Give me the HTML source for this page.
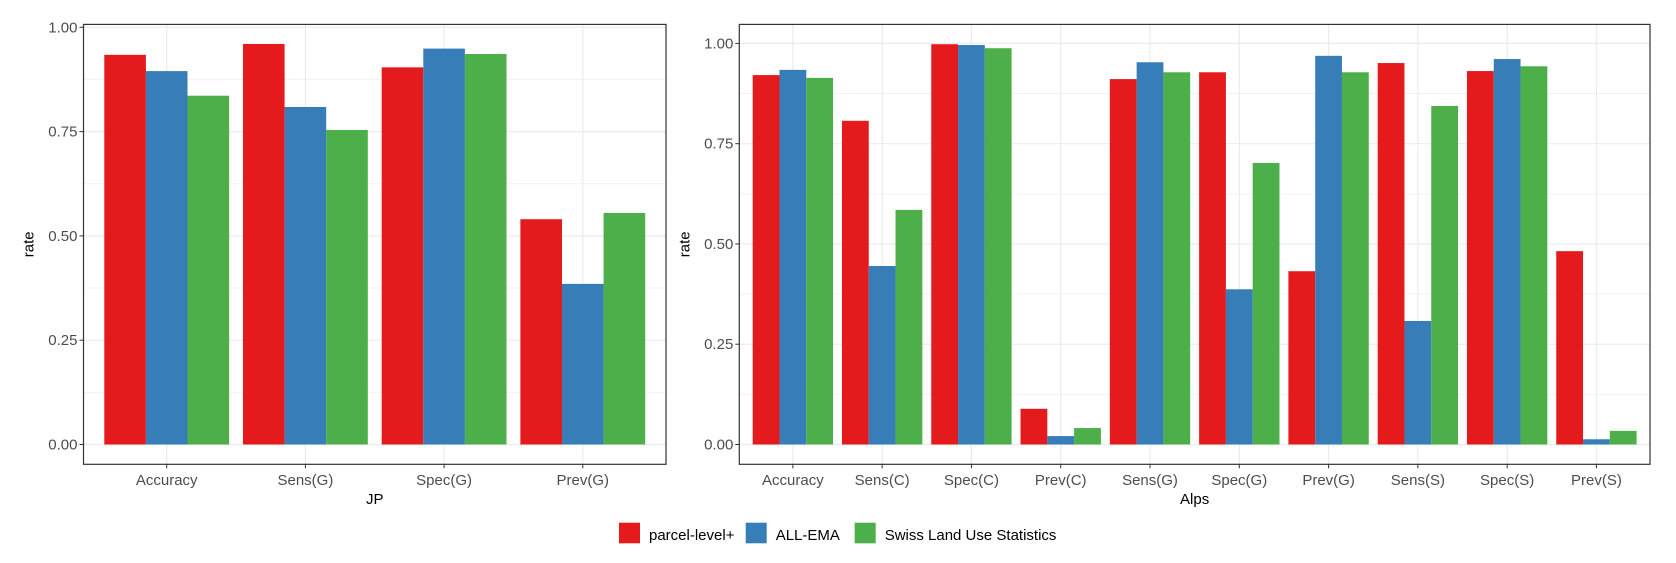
<!DOCTYPE html>
<html><head><meta charset="utf-8"><style>
body{margin:0;background:#fff}
svg{display:block;font-family:"Liberation Sans",Arial,sans-serif}
</style></head><body>
<svg id="c" width="1676" height="563" viewBox="0 0 1676 563"></svg>
<script>
const seriesNames=["parcel-level+","ALL-EMA","Swiss Land Use Statistics"];
const colors=["#E41A1C","#377EB8","#4DAF4A"];
const jpCats=["Accuracy","Sens(G)","Spec(G)","Prev(G)"];
const jpRed=[0.934,0.960,0.904,0.540];
const jpBlue=[0.895,0.809,0.949,0.385];
const jpGreen=[0.836,0.754,0.936,0.555];
const alpsCats=["Accuracy","Sens(C)","Spec(C)","Prev(C)","Sens(G)","Spec(G)","Prev(G)","Sens(S)","Spec(S)","Prev(S)"];
const alpsRed=[0.921,0.807,0.998,0.089,0.911,0.928,0.432,0.951,0.931,0.482];
const alpsBlue=[0.934,0.445,0.996,0.021,0.953,0.387,0.969,0.308,0.961,0.013];
const alpsGreen=[0.914,0.585,0.988,0.041,0.928,0.702,0.928,0.844,0.943,0.034];
const yTicks=[0,0.25,0.5,0.75,1];
const yTickLabels=["0.00","0.25","0.50","0.75","1.00"];
const NS="http://www.w3.org/2000/svg";
const svg=document.getElementById('c');
function mk(t,a,p){const e=document.createElementNS(NS,t);for(const k in a)e.setAttribute(k,a[k]);(p||svg).appendChild(e);return e;}
function panel(name,L,R,T,B,y0px,y1px,cats,vals,title){
  const g=mk('g',{});
  
  
  const y=v=>y0px+(y1px-y0px)*v;
  const n=cats.length;
  const step=(R-L)/(n+0.2);
  const x=i=>L+step*(0.6+i);
  for(let v=0.125;v<1;v+=0.25){mk('line',{x1:L,x2:R,y1:y(v),y2:y(v),stroke:'#f2f2f2','stroke-width':1},g);}
  yTicks.forEach(v=>{const l=mk('line',{x1:L,x2:R,y1:y(v),y2:y(v),stroke:'#ebebeb','stroke-width':1.2},g);
    });
  cats.forEach((c,i)=>{mk('line',{x1:x(i),x2:x(i),y1:T,y2:B,stroke:'#ebebeb','stroke-width':1.2},g);});
  const bw=step*0.9/3;
  vals.forEach((arr,s)=>{arr.forEach((v,i)=>{
    const r=mk('rect',{x:x(i)-1.5*bw+s*bw,y:y(v),width:bw,height:y(0)-y(v),fill:colors[s]},g);
    
    
  });});
  mk('rect',{x:L,y:T,width:R-L,height:B-T,fill:'none',stroke:'#333','stroke-width':1.2},g);
  yTicks.forEach((v,k)=>{mk('line',{x1:L-4,x2:L,y1:y(v),y2:y(v),stroke:'#333'},g);
    const t=mk('text',{x:L-6,y:y(v)+5,'text-anchor':'end','font-size':15,fill:'#4d4d4d'},g);t.textContent=yTickLabels[k];
    });
  cats.forEach((c,i)=>{mk('line',{x1:x(i),x2:x(i),y1:B,y2:B+4,stroke:'#333'},g);
    const t=mk('text',{x:x(i),y:485,'text-anchor':'middle','font-size':15,fill:'#4d4d4d'},g);t.textContent=c;
    });
  const xt=mk('text',{x:(L+R)/2,y:504,'text-anchor':'middle','font-size':15,fill:'#000'},g);xt.textContent=title;
  
  const yt=mk('text',{x:0,y:0,transform:`translate(${L-50},${(T+B)/2}) rotate(-90)`,'text-anchor':'middle','font-size':15,fill:'#000'},g);yt.textContent='rate';
  
}
panel('jp',83.5,666,24.4,464.3,444.5,27.3,jpCats,[jpRed,jpBlue,jpGreen],'JP');
panel('alps',739.3,1650,24.4,464.3,444.5,43.4,alpsCats,[alpsRed,alpsBlue,alpsGreen],'Alps');
const lg=mk('g',{});


const kx=[619,745.7,854.7];
seriesNames.forEach((s,i)=>{
  const r=mk('rect',{x:kx[i],y:522.7,width:21,height:20.6,fill:colors[i]},lg);
  
  
  const t=mk('text',{x:kx[i]+30,y:540,'font-size':15,fill:'#000'},lg);t.textContent=s;
  
  
});
</script>
</body></html>
